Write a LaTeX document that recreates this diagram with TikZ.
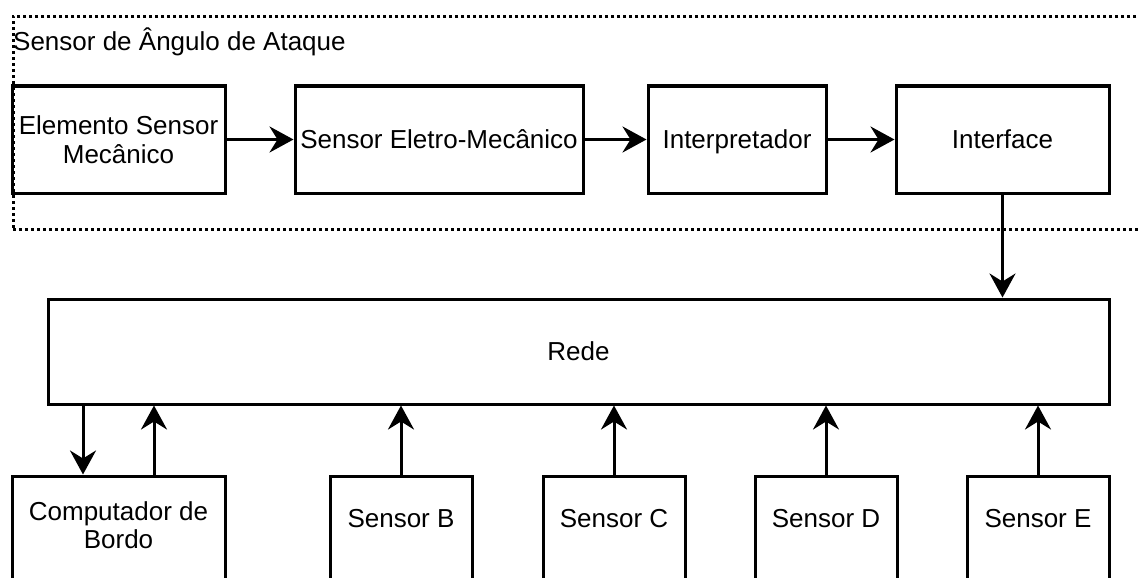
\documentclass[tikz,border=0pt]{standalone}
\usepackage{fontspec}
\setmainfont{Liberation Sans}
\usetikzlibrary{arrows.meta}

\tikzset{
  box/.style={draw, line width=3pt, rectangle, inner sep=0pt, align=center,
              font=\fontsize{26}{28.5}\selectfont, text height=18.7pt, text depth=0pt},
  lbl/.style={anchor=center, align=center, inner sep=0pt,
              font=\fontsize{26}{28.5}\selectfont, text height=18.7pt, text depth=0pt},
  twoline/.style={text height=47.2pt},
  grp/.style={draw, line width=2.6pt, dash pattern=on 3pt off 3pt, rectangle, inner sep=0pt},
  arr/.style={line width=3pt, -{Stealth[length=24pt, width=26pt, inset=8pt]}}
}

\begin{document}
\begin{tikzpicture}[x=1pt, y=-1pt]
  \useasboundingbox (0,0) rectangle (1138,578);
  \clip (0,0) rectangle (1138,578);

  % sensor group frame
  \node[grp, anchor=north west, minimum width=1160pt, minimum height=213pt] (grupo) at (12,15) {};
  \node[anchor=base west, inner sep=0pt, font=\fontsize{26}{29}\selectfont] (titulo) at (13,51) {Sensor de Ângulo de Ataque};

  % sensor chain
  \node[box, twoline, minimum width=213pt, minimum height=107pt] (elem) at (118.5,139.5) {Elemento Sensor\\Mecânico};
  \node[box, minimum width=288pt, minimum height=107pt] (eletro) at (439,139.5) {Sensor Eletro-Mecânico};
  \node[box, minimum width=178pt, minimum height=107pt] (interp) at (737,139.5) {Interpretador};
  \node[box, minimum width=213pt, minimum height=107pt] (iface) at (1002.5,139.5) {Interface};

  % network
  \node[box, minimum width=1061pt, minimum height=105pt] (rede) at (578.5,351.5) {Rede};

  % devices on the network
  \node[box, minimum width=213pt, minimum height=160pt,
        label={[lbl, twoline, name=cbtxt, label distance=-50.5pt]north:Computador de\\Bordo}] (cb) at (118.5,556) {};
  \node[box, minimum width=142pt, minimum height=160pt,
        label={[lbl, name=sbtxt, label distance=-44pt]north:Sensor B}] (sb) at (401,556) {};
  \node[box, minimum width=142pt, minimum height=160pt,
        label={[lbl, name=sctxt, label distance=-44pt]north:Sensor C}] (sc) at (614,556) {};
  \node[box, minimum width=142pt, minimum height=160pt,
        label={[lbl, name=sdtxt, label distance=-44pt]north:Sensor D}] (sd) at (826,556) {};
  \node[box, minimum width=142pt, minimum height=160pt,
        label={[lbl, name=setxt, label distance=-44pt]north:Sensor E}] (se) at (1038,556) {};

  % connectors
  \draw[arr] (elem.east) -- (eletro.west);
  \draw[arr] (eletro.east) -- (interp.west);
  \draw[arr] (interp.east) -- (iface.west);
  \draw[arr] (iface.south) -- (iface.south |- rede.north);

  \coordinate (cbdown) at ([xshift=-35.5pt]cb.north);
  \coordinate (cbup) at ([xshift=35.5pt]cb.north);
  \draw[arr] (cbdown |- rede.south) -- (cbdown);
  \draw[arr] (cbup) -- (cbup |- rede.south);
  \draw[arr] (sb.north) -- (sb.north |- rede.south);
  \draw[arr] (sc.north) -- (sc.north |- rede.south);
  \draw[arr] (sd.north) -- (sd.north |- rede.south);
  \draw[arr] (se.north) -- (se.north |- rede.south);
\end{tikzpicture}
\end{document}
